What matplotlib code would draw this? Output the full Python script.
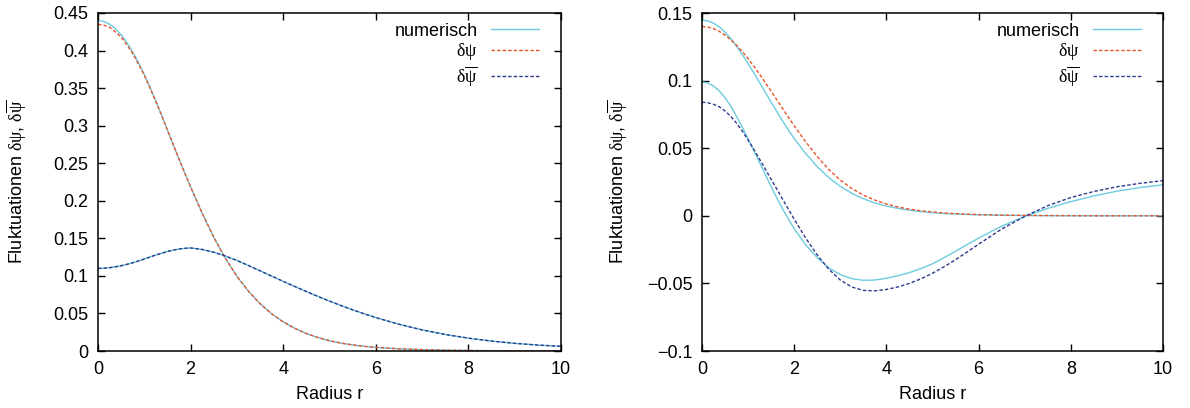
import numpy as np
import matplotlib
matplotlib.use('Agg')
import matplotlib.pyplot as plt
import matplotlib.ticker as ticker

plt.rcParams['font.family'] = ['Liberation Sans', 'DejaVu Sans']
plt.rcParams['font.size'] = 13
plt.rcParams['mathtext.fontset'] = 'custom'
plt.rcParams['mathtext.rm'] = 'Liberation Serif'
plt.rcParams['mathtext.it'] = 'Liberation Serif'
plt.rcParams['axes.unicode_minus'] = True

# radius grid
r = [0, 0.125, 0.25, 0.375, 0.5, 0.625, 0.75, 0.875, 1.0, 1.125, 1.25, 1.375, 1.5, 1.625, 1.75, 1.875,
     2.0, 2.25, 2.5, 2.75, 3.0, 3.25, 3.5, 3.75, 4.0, 4.25, 4.5, 4.75, 5.0, 5.25, 5.5, 5.75,
     6.0, 6.5, 7.0, 7.5, 8.0, 8.5, 9.0, 9.5, 10.0]

# linkes Bild
links_num_1 = [0.440, 0.4387, 0.435, 0.4291, 0.421, 0.4106, 0.398, 0.3839, 0.368, 0.3509, 0.3325, 0.3136,
               0.294, 0.2748, 0.2555, 0.2368, 0.2185, 0.1835, 0.1515, 0.1235, 0.0995, 0.0795, 0.063,
               0.0495, 0.0388, 0.0302, 0.0232, 0.0179, 0.0137, 0.0105, 0.0081, 0.0062, 0.0048,
               0.0029, 0.0018, 0.0011, 0.0007, 0.0004, 0.0003, 0.0002, 0.0001]
links_dpsi = [0.435, 0.4338, 0.431, 0.4250, 0.418, 0.4076, 0.396, 0.3819, 0.367, 0.3498, 0.332, 0.3133,
              0.294, 0.2748, 0.2555, 0.2368, 0.2185, 0.1835, 0.1515, 0.1235, 0.0995, 0.0795, 0.063,
              0.0495, 0.0388, 0.0302, 0.0232, 0.0179, 0.0137, 0.0105, 0.0081, 0.0062, 0.0048,
              0.0029, 0.0018, 0.0011, 0.0007, 0.0004, 0.0003, 0.0002, 0.0001]
links_num_2 = [0.110, 0.1102, 0.1109, 0.1121, 0.1135, 0.1154, 0.1175, 0.1199, 0.1225, 0.1252, 0.1278,
               0.1302, 0.1325, 0.1343, 0.1358, 0.1367, 0.1372, 0.1352, 0.1315, 0.1265, 0.1205, 0.1138,
               0.1068, 0.0997, 0.0927, 0.0859, 0.0792, 0.0727, 0.0664, 0.0605, 0.0548, 0.0495, 0.0445,
               0.0356, 0.0281, 0.0220, 0.0171, 0.0132, 0.0102, 0.0079, 0.0062]
links_dpsibar = links_num_2

# rechtes Bild
rechts_num_1 = [0.1447, 0.14415, 0.1425, 0.1397, 0.1358, 0.1311, 0.1253, 0.1192, 0.1125, 0.1057, 0.0985,
                0.0913, 0.0840, 0.0770, 0.0700, 0.0634, 0.0572, 0.0460, 0.0363, 0.0283, 0.0218, 0.0166,
                0.0126, 0.0095, 0.0072, 0.0055, 0.0041, 0.0031, 0.0023, 0.0017, 0.0013, 0.0010, 0.0007,
                0.0004, 0.0002, 0.0001, 0.0, 0.0, 0.0, 0.0, 0.0]
rechts_dpsi = [0.140, 0.1396, 0.1384, 0.1364, 0.1336, 0.1302, 0.1261, 0.1214, 0.1162, 0.1106, 0.1047,
               0.0985, 0.0922, 0.0857, 0.0792, 0.0728, 0.0666, 0.0547, 0.0438, 0.0343, 0.0264, 0.0202,
               0.0153, 0.0116, 0.0087, 0.0065, 0.0049, 0.0037, 0.0028, 0.0021, 0.0016, 0.0012, 0.0009,
               0.0005, 0.0003, 0.0002, 0.0001, 0.0, 0.0, 0.0, 0.0]
rechts_num_2 = [0.099, 0.09825, 0.096, 0.0924, 0.0873, 0.0810, 0.0735, 0.0656, 0.057, 0.0483, 0.0393,
                0.0304, 0.0215, 0.0131, 0.005, -0.0025, -0.0095, -0.0215, -0.031, -0.0385, -0.0435,
                -0.0465, -0.0477, -0.0475, -0.0462, -0.0443, -0.042, -0.0390, -0.0355, -0.0310, -0.0262,
                -0.0213, -0.0165, -0.0077, -0.0005, 0.0055, 0.0105, 0.0147, 0.0182, 0.0209, 0.0229]
rechts_dpsibar = [0.084, 0.0836, 0.0825, 0.0806, 0.0775, 0.0735, 0.0685, 0.0627, 0.056, 0.0491, 0.0418,
                  0.0345, 0.027, 0.0196, 0.0122, 0.0048, -0.0025, -0.0165, -0.029, -0.0395, -0.0475,
                  -0.0527, -0.0552, -0.0555, -0.0545, -0.0526, -0.050, -0.0466, -0.0425, -0.0377, -0.0325,
                  -0.0268, -0.021, -0.0098, -0.0005, 0.0075, 0.0135, 0.018, 0.0215, 0.024, 0.026]

c_num = '#6ccbe0'
c_dpsi = '#e8552b'
c_dpsibar = '#2d3a8e'

ylabel = r'Fluktuationen $\delta\psi$, $\delta\overline{\psi}$'

fig = plt.figure(figsize=(11.9, 4.08), dpi=100)
ax1 = fig.add_axes([98/1190, 1-351/408, (561-98)/1190, (351-13)/408])
ax2 = fig.add_axes([702/1190, 1-351/408, (1163-702)/1190, (351-13)/408])


def zeichne(ax, num1, num2, dpsi, dpsibar):
    ax.plot(r, num1, color=c_num, lw=1.0, label='numerisch')
    ax.plot(r, num2, color=c_num, lw=1.0)
    ax.plot(r, dpsi, color=c_dpsi, lw=1.0, dashes=(2.5, 1.5), label=r'$\delta\psi$')
    ax.plot(r, dpsibar, color=c_dpsibar, lw=1.0, dashes=(2.5, 1.5), label=r'$\delta\overline{\psi}$')
    ax.set_xlim(0, 10)
    ax.set_xticks([0, 2, 4, 6, 8, 10])
    ax.set_xlabel('Radius r', labelpad=6)
    ax.set_ylabel(ylabel)
    ax.tick_params(direction='in', top=True, right=True, length=5, width=1, pad=7)
    ax.yaxis.set_major_formatter(ticker.FuncFormatter(lambda v, pos: ('%g' % round(v, 4)).replace('-', '\u2212')))
    for s in ax.spines.values():
        s.set_linewidth(1.1)
    ax.legend(loc='upper right', bbox_to_anchor=(1 - 9/463, 1 + 3/338), frameon=False,
              markerfirst=False, handlelength=2.7, borderaxespad=0.3, labelspacing=0.1,
              handletextpad=0.7)


zeichne(ax1, links_num_1, links_num_2, links_dpsi, links_dpsibar)
ax1.set_ylim(0, 0.45)
ax1.set_yticks(np.arange(0, 0.451, 0.05))
ax1.yaxis.set_label_coords((29 - 98) / 463, 0.5)

zeichne(ax2, rechts_num_1, rechts_num_2, rechts_dpsi, rechts_dpsibar)
ax2.set_ylim(-0.1, 0.15)
ax2.set_yticks(np.arange(-0.1, 0.151, 0.05))
ax2.yaxis.set_label_coords((630 - 702) / 461, 0.5)

fig.savefig('out.png', dpi=100)
